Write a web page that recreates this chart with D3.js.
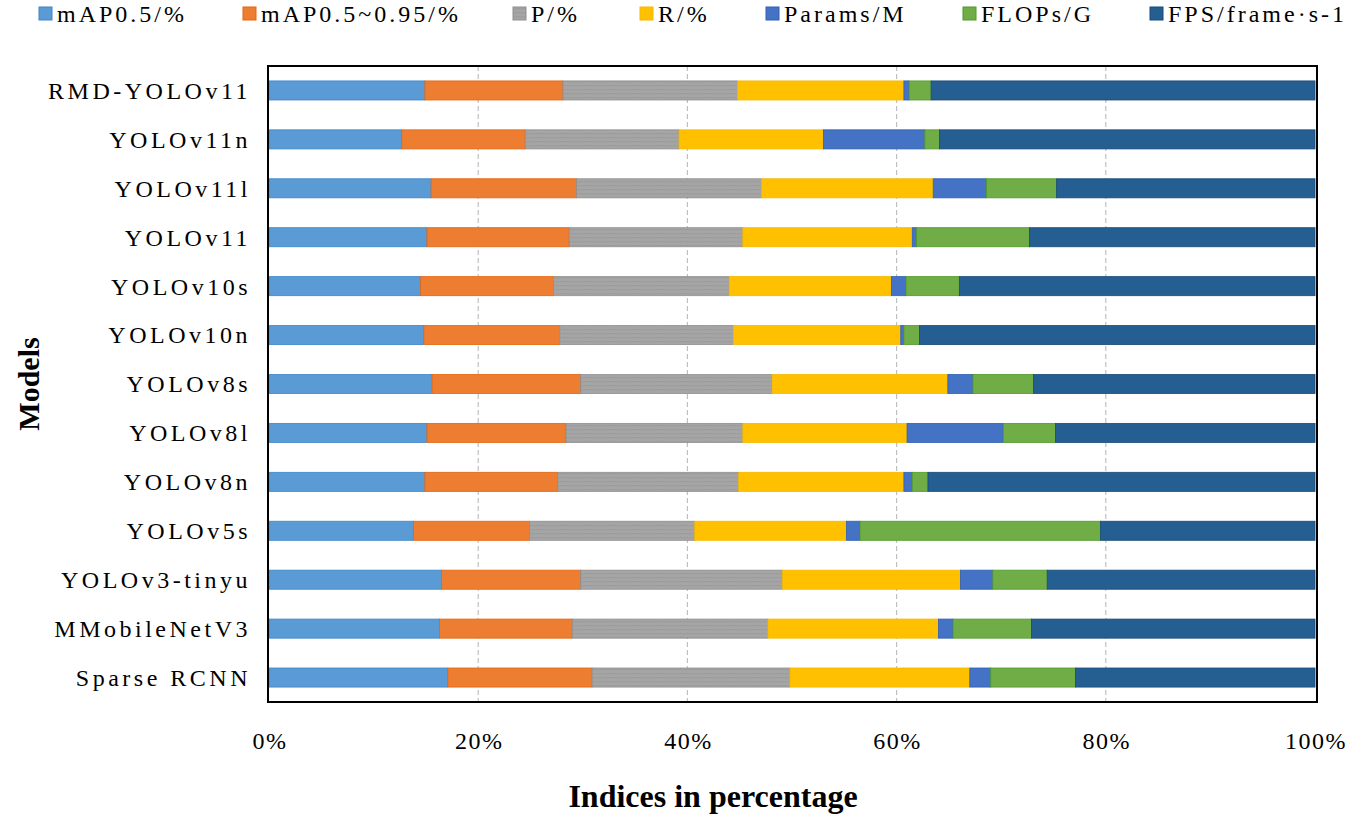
<!DOCTYPE html>
<html>
<head>
<meta charset="utf-8">
<script src="https://cdn.jsdelivr.net/npm/d3@7"></script>
<style>
  body { margin: 0; background: #fff; }
</style>
</head>
<body>
<svg id="chart" width="1355" height="814"></svg>
<script>
// models, top to bottom
const models = ["RMD-YOLOv11", "YOLOv11n", "YOLOv11l", "YOLOv11", "YOLOv10s", "YOLOv10n",
  "YOLOv8s", "YOLOv8l", "YOLOv8n", "YOLOv5s", "YOLOv3-tinyu", "MMobileNetV3", "Sparse RCNN"];

const seriesNames = ["mAP0.5/%", "mAP0.5~0.95/%", "P/%", "R/%", "Params/M", "FLOPs/G", "FPS/frame\u00b7s-1"];

// share of each index per model
const map50     = [14.9, 12.7, 15.5, 15.1, 14.5, 14.8, 15.6, 15.1, 14.9, 13.8, 16.5, 16.3, 17.1];
const map5095   = [13.2, 11.8, 13.9, 13.6, 12.7, 13.0, 14.2, 13.3, 12.7, 11.1, 13.3, 12.7, 13.8];
const precision = [16.7, 14.7, 17.7, 16.6, 16.8, 16.6, 18.3, 16.9, 17.3, 15.8, 19.3, 18.7, 18.9];
const recall    = [15.9, 13.8, 16.4, 16.2, 15.5, 16.0, 16.8, 15.7, 15.8, 14.5, 17.0, 16.3, 17.2];
const params    = [0.5, 9.7, 5.1, 0.4, 1.4, 0.3, 2.4, 9.2, 0.8, 1.3, 3.1, 1.4, 2.0];
const flops     = [2.1, 1.4, 6.7, 10.8, 5.1, 1.5, 5.8, 5.0, 1.5, 23.0, 5.2, 7.5, 8.1];
const fps       = [36.7, 35.9, 24.7, 27.3, 34.0, 37.8, 26.9, 24.8, 37.0, 20.5, 25.6, 27.1, 22.9];

const xTicks = [0, 0.2, 0.4, 0.6, 0.8, 1];

const colors = ["#5b9bd5", "#ed7d31", "#a5a5a5", "#ffc000", "#4472c4", "#70ad47", "#255e91"];
const strokes = ["#3d85c8", "#e5640f", "#8f8f8f", "#f5b800", "#2f5fb3", "#4f9a2a", "#1a4a78"];

const serif = "Liberation Serif";
const svg = d3.select("#chart");

// plot frame
const plotLeft = 269, plotRight = 1315, plotTop = 66, plotBottom = 702;

// table for d3.stack
const seriesArrays = [map50, map5095, precision, recall, params, flops, fps];
const table = models.map((m, i) => {
  const row = { model: m };
  seriesNames.forEach((s, j) => row[s] = seriesArrays[j][i]);
  return row;
});

const stack = d3.stack().keys(seriesNames).offset(d3.stackOffsetExpand);
const layers = stack(table);

const x = d3.scaleLinear().domain([0, 1]).range([plotLeft, plotRight]);
const y = d3.scaleBand().domain(models).range([plotTop, plotBottom])
  .paddingInner(0.61).paddingOuter(0.305);

// texture for the P series
const defs = svg.append("defs");
const pat = defs.append("pattern")
  .attr("id", "ptex")
  .attr("patternUnits", "userSpaceOnUse")
  .attr("width", 6).attr("height", 4);
pat.append("rect").attr("width", 6).attr("height", 4).attr("fill", "#a5a5a5");
pat.append("path")
  .attr("d", "M0,1 L1.5,2.5 L3,1 L4.5,2.5 L6,1")
  .attr("stroke", "#959595").attr("stroke-width", 0.8).attr("fill", "none");

// gridlines
svg.append("g")
  .selectAll("line")
  .data(xTicks.filter(t => t > 0 && t < 1))
  .enter()
  .append("line")
  .attr("x1", d => x(d)).attr("x2", d => x(d))
  .attr("y1", plotTop).attr("y2", plotBottom)
  .attr("stroke", "#bfbfbf")
  .attr("stroke-width", 1.2)
  .attr("stroke-dasharray", "5,3");

// bars
svg.append("g")
  .selectAll("g")
  .data(layers)
  .enter()
  .append("g")
  .each(function(layer, li) {
    d3.select(this).selectAll("rect")
      .data(layer)
      .enter()
      .append("rect")
      .attr("x", d => x(d[0]))
      .attr("y", d => y(d.data.model))
      .attr("width", d => x(d[1]) - x(d[0]))
      .attr("height", y.bandwidth())
      .attr("fill", li === 2 ? "url(#ptex)" : colors[li])
      .attr("stroke", strokes[li])
      .attr("stroke-width", 0.8);
  });

// frame
svg.append("rect")
  .attr("x", plotLeft - 1).attr("y", plotTop)
  .attr("width", plotRight - plotLeft + 3).attr("height", plotBottom - plotTop)
  .attr("fill", "none")
  .attr("stroke", "#000")
  .attr("stroke-width", 2);

// y labels
svg.append("g")
  .selectAll("text")
  .data(models)
  .enter()
  .append("text")
  .attr("x", 251)
  .attr("y", d => y(d) + y.bandwidth() / 2)
  .attr("dy", "0.35em")
  .attr("text-anchor", "end")
  .attr("font-family", serif)
  .attr("font-size", 24)
  .attr("letter-spacing", 3.5)
  .text(d => d);

// x tick labels
svg.append("g")
  .selectAll("text")
  .data(xTicks)
  .enter()
  .append("text")
  .attr("x", d => x(d) + 1)
  .attr("y", 749)
  .attr("text-anchor", "middle")
  .attr("font-family", serif)
  .attr("font-size", 24)
  .attr("letter-spacing", 1.5)
  .text(d3.format(".0%"));

// axis titles
svg.append("text")
  .attr("x", 713)
  .attr("y", 807)
  .attr("text-anchor", "middle")
  .attr("font-family", serif)
  .attr("font-size", 32)
  .attr("font-weight", "bold")
  .text("Indices in percentage");

svg.append("text")
  .attr("transform", `translate(39, ${(plotTop + plotBottom) / 2}) rotate(-90)`)
  .attr("text-anchor", "middle")
  .attr("font-family", serif)
  .attr("font-size", 30)
  .attr("font-weight", "bold")
  .text("Models");

// legend
const legendX = [39, 243, 513, 640, 766, 963, 1150];
const legend = svg.append("g")
  .selectAll("g")
  .data(seriesNames)
  .enter()
  .append("g")
  .attr("transform", (d, i) => `translate(${legendX[i]}, 7)`);

legend.append("rect")
  .attr("width", 13).attr("height", 13)
  .attr("fill", (d, i) => i === 2 ? "url(#ptex)" : colors[i])
  .attr("stroke", (d, i) => strokes[i])
  .attr("stroke-width", 1);

legend.append("text")
  .attr("x", 18)
  .attr("y", 15)
  .attr("font-family", serif)
  .attr("font-size", 24)
  .attr("letter-spacing", 3)
  .text(d => d);
</script>
</body>
</html>
